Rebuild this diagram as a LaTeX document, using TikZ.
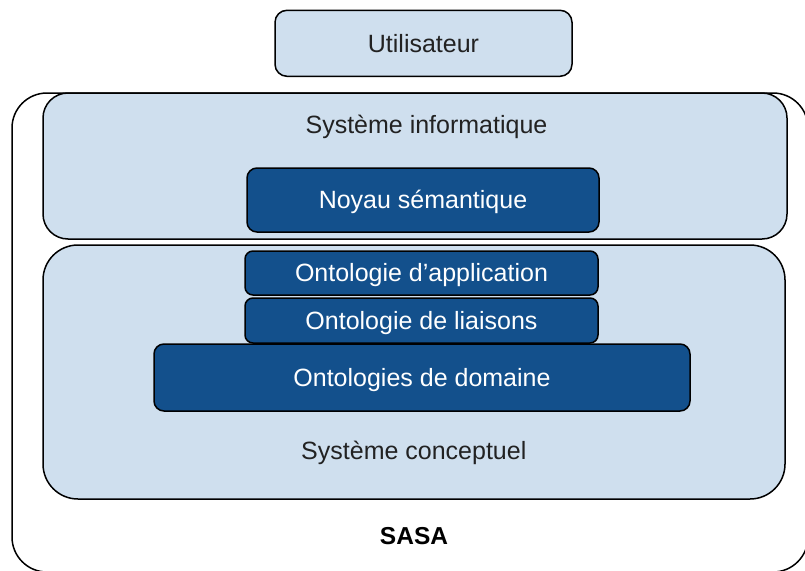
\documentclass[tikz,border=0pt]{standalone}
\usepackage{fontspec}
\setmainfont{Liberation Sans}
\definecolor{lightbox}{HTML}{CFDFEE}
\definecolor{darkbox}{HTML}{13508C}
\definecolor{txt}{HTML}{222222}
\tikzset{
  box/.style={draw=black, line width=1.5pt, inner sep=0pt, outer sep=0pt},
  lightb/.style={box, fill=lightbox},
  bigfont/.style={font=\fontsize{25}{30}\selectfont, text height=17.9pt, text depth=0pt},
  darkb/.style={box, fill=darkbox, text=white, bigfont},
  lbl/.style={text=txt, bigfont, inner sep=0pt},
}
\begin{document}
\begin{tikzpicture}[x=1pt,y=-1pt]
\useasboundingbox (0,0) rectangle (805,570);
\fill[white] (0,0) rectangle (805,570);
% outer SASA
\node[box, fill=white, rounded corners=35pt, minimum width=796pt, minimum height=479pt] (sasa) at (410,332.5) {};
\node[lbl, font=\fontsize{24.5}{28}\selectfont\bfseries, text height=17.5pt, text=black] (sasalbl) at (414,536.2) {SASA};
% user
\node[lightb, rounded corners=12pt, minimum width=297pt, minimum height=66pt, text=txt, bigfont] (user) at (423.5,43.3) {Utilisateur};
% systeme informatique
\node[lightb, rounded corners=25pt, minimum width=744pt, minimum height=146pt] (sinfo) at (415,166) {};
\node[lbl] (sinfolbl) at (426.5,124.7) {Système informatique};
\node[darkb, rounded corners=10pt, minimum width=352pt, minimum height=64pt] (noyau) at (423,200) {Noyau sémantique};
% systeme conceptuel
\node[lightb, rounded corners=35pt, minimum width=742pt, minimum height=254pt] (sconc) at (414,372) {};
\node[lbl] (sconclbl) at (413.8,450.8) {Système conceptuel};
\node[darkb, rounded corners=8pt, minimum width=353pt, minimum height=44pt] (app) at (421.5,273) {Ontologie d’application};
\node[darkb, rounded corners=8pt, minimum width=353pt, minimum height=45pt] (liais) at (421.5,320.5) {Ontologie de liaisons};
\node[darkb, rounded corners=10pt, minimum width=536pt, minimum height=67pt] (dom) at (422,377.5) {Ontologies de domaine};
\end{tikzpicture}
\end{document}
